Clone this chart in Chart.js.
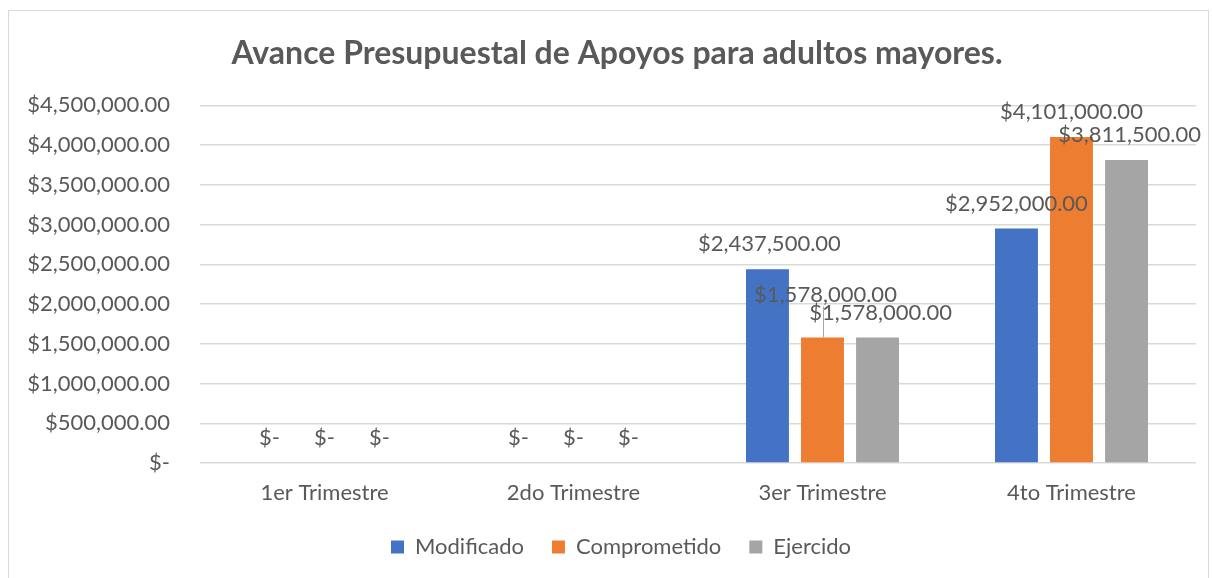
<!DOCTYPE html>
<html>
<head>
<meta charset="utf-8">
<script src="https://cdn.jsdelivr.net/npm/chart.js@4.4.1/dist/chart.umd.min.js"></script>
<style>
  html, body { margin: 0; padding: 0; background: #ffffff; }
  #wrap { position: relative; width: 1212px; height: 578px; overflow: hidden; }
  #frame { position: absolute; left: 8px; top: 10px; width: 1201px; height: 600px; border: 1px solid #d9d9d9; box-sizing: border-box; }
  canvas { position: absolute; left: 0; top: 0; }
</style>
</head>
<body>
<div id="wrap">
  <div id="frame"></div>
  <canvas id="c" width="1212" height="578"></canvas>
</div>
<script>
const titleText = 'Avance Presupuestal de Apoyos para adultos mayores.';
const categories = ['1er Trimestre', '2do Trimestre', '3er Trimestre', '4to Trimestre'];
const modificado = [0, 0, 2437500, 2952000];
const comprometido = [0, 0, 1578000, 4101000];
const ejercido = [0, 0, 1578000, 3811500];
const seriesNames = ['Modificado', 'Comprometido', 'Ejercido'];
const seriesColors = ['#4472C4', '#ED7D31', '#A5A5A5'];
const yMin = 0, yMax = 4500000, yStep = 500000;

const TEXT = '#595959';
const FONT = 'Lato';
const FS = 22;

function money(v) {
  if (v === 0) return '$-';
  return '$' + v.toLocaleString('en-US', { minimumFractionDigits: 2, maximumFractionDigits: 2 });
}

// label nudges (dataset index, point index) -> [dx, dy] in px, mimicking the reference's manual label placement
const labelNudges = { '1,2': [3, -18], '2,2': [3, 0], '0,2': [2, 0], '2,3': [3, 0] };

const dataLabels = {
  id: 'dataLabels',
  afterDatasetsDraw(chart) {
    const ctx = chart.ctx;
    ctx.save();
    ctx.font = FS + 'px ' + FONT;
    ctx.fillStyle = TEXT;
    ctx.textAlign = 'center';
    ctx.textBaseline = 'middle';
    chart.data.datasets.forEach((ds, di) => {
      const meta = chart.getDatasetMeta(di);
      meta.data.forEach((el, i) => {
        const v = ds.data[i];
        const n = labelNudges[di + ',' + i] || [0, 0];
        const x = el.x + n[0];
        const y = el.y - 25 + n[1];
        ctx.fillText(money(v), x, y);
        if (n[1] < -5) {
          ctx.strokeStyle = '#a6a6a6';
          ctx.lineWidth = 1;
          ctx.beginPath();
          ctx.moveTo(Math.round(el.x) + 0.5, y + 12);
          ctx.lineTo(Math.round(el.x) + 0.5, el.y);
          ctx.stroke();
        }
      });
    });
    ctx.restore();
  }
};

// fix legend box height, and centre title/legend on the chart frame as in the reference
const layoutTweaks = {
  id: 'layoutTweaks',
  beforeLayout(chart) {
    const lg = chart.legend;
    if (lg && !lg.__patched) {
      lg.__patched = true;
      const orig = lg.fit.bind(lg);
      lg.fit = function () {
        orig();
        this.height = 62;
        if (this._minSize) this._minSize.height = 62;
      };
    }
  },
  afterLayout(chart) {
    if (chart.titleBlock) chart.titleBlock.left += 16;
    if (chart.legend) { chart.legend.left += 24; chart.legend.top += 2; }
  }
};

const datasets = [modificado, comprometido, ejercido].map((arr, i) => ({
  label: seriesNames[i],
  data: arr,
  backgroundColor: seriesColors[i],
  borderWidth: 0,
  barPercentage: 0.78,
  categoryPercentage: 0.663
}));

new Chart(document.getElementById('c'), {
  type: 'bar',
  data: { labels: categories, datasets },
  plugins: [dataLabels, layoutTweaks],
  options: {
    responsive: false,
    animation: false,
    layout: { padding: { left: 22, right: 16, top: 0, bottom: 10 } },
    plugins: {
      title: {
        display: true,
        text: titleText,
        color: TEXT,
        font: { family: FONT, size: 32, weight: 'bold' },
        padding: { top: 34, bottom: 33 }
      },
      legend: {
        position: 'bottom',
        labels: {
          color: TEXT,
          font: { family: FONT, size: FS },
          boxWidth: 13,
          boxHeight: 13,
          padding: 28
        }
      },
      tooltip: { enabled: false }
    },
    scales: {
      x: {
        afterFit(scale) { scale.height = 43; },
        grid: { display: false, drawTicks: false },
        border: { display: false },
        ticks: { color: TEXT, font: { family: FONT, size: FS }, padding: 17 }
      },
      y: {
        min: yMin,
        max: yMax,
        afterFit(scale) { scale.width = 178; },
        grid: { color: '#d9d9d9', lineWidth: 1.5, drawTicks: false },
        border: { display: false },
        ticks: {
          stepSize: yStep,
          color: TEXT,
          font: { family: FONT, size: FS },
          padding: 30,
          callback: (v) => money(v)
        }
      }
    }
  }
});
</script>
</body>
</html>
